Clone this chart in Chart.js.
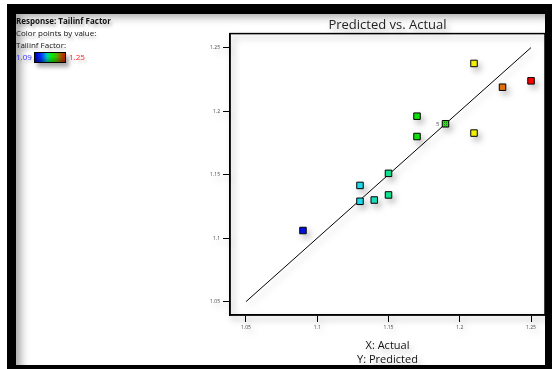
<!DOCTYPE html>
<html>
<head>
<meta charset="utf-8">
<script src="https://cdn.jsdelivr.net/npm/chart.js@4/dist/chart.umd.min.js"></script>
<style>
  html, body { margin:0; padding:0; background:#fff; }
  #wrap { position:relative; width:552px; height:369px; overflow:hidden; background:#fff; }
  #frame { position:absolute; left:7px; top:4px; width:529px; height:351px;
    border-style:solid; border-color:#000; border-width:10px 7px 4px 9px;
    box-shadow: inset 7px 5px 8px -2px rgba(0,0,0,0.35); background:#fff; }
  #c { position:absolute; left:0; top:0; filter: drop-shadow(3px 4px 3px rgba(0,0,0,0.28)); }
  .lg { position:absolute; font-family:'Open Sans', sans-serif; font-size:8px; color:#111; white-space:nowrap; line-height:1; text-shadow: 2px 3px 3px rgba(0,0,0,0.25); }
  #gbox { position:absolute; left:34px; top:52px; width:30px; height:9px; border:1px solid #000;
    background: linear-gradient(to bottom, rgba(0,0,0,0) 40%, rgba(0,0,0,0.3)),
      linear-gradient(to right, #0000b0, #0030ff 20%, #00c8c0 40%, #00f000 55%, #50b000 72%, #b04000 90%, #c02000);
    box-shadow: 3px 4px 4px rgba(0,0,0,0.35); }
</style>
</head>
<body>
<div id="wrap">
  <div id="frame"></div>
  <canvas id="c" width="552" height="369"></canvas>
  <div class="lg" style="left:16px;top:17px;font-weight:bold;">Response: Tailinf Factor</div>
  <div class="lg" style="left:16px;top:29px;">Color points by value:</div>
  <div class="lg" style="left:16px;top:41px;">Tailinf Factor:</div>
  <div class="lg" style="left:16px;top:53px;color:#3030ff;">1.09</div>
  <div id="gbox"></div>
  <div class="lg" style="left:69px;top:53px;color:#ff2020;">1.25</div>
</div>
<script>
// ---- data ----
const actual    = [1.09, 1.13, 1.13, 1.14, 1.15, 1.15, 1.17, 1.17, 1.19, 1.21, 1.21, 1.23, 1.25];
const predicted = [1.106, 1.1415, 1.129, 1.130, 1.134, 1.151, 1.196, 1.180, 1.190, 1.2375, 1.1827, 1.2188, 1.2238];
const replicates = [1, 1, 1, 1, 1, 1, 1, 1, 5, 1, 1, 1, 1];
const xTicks = [1.05, 1.1, 1.15, 1.2, 1.25];
const yTicks = [1.05, 1.1, 1.15, 1.2, 1.25];
const tickLabels = ['1.05', '1.1', '1.15', '1.2', '1.25'];
const refLine = [1.05, 1.25];

// ---- colour map (style) ----
const cmap = [[1.09,[0,16,224]],[1.13,[32,216,232]],[1.15,[16,224,144]],[1.17,[16,224,16]],[1.19,[48,176,32]],[1.21,[240,240,0]],[1.23,[224,112,16]],[1.25,[255,0,0]]];
function colorFor(v){
  if (v <= cmap[0][0]) return 'rgb('+cmap[0][1].join(',')+')';
  for (let i=1;i<cmap.length;i++){
    if (v <= cmap[i][0]+1e-9){
      const t=(v-cmap[i-1][0])/(cmap[i][0]-cmap[i-1][0]);
      const a=cmap[i-1][1], b=cmap[i][1];
      return 'rgb('+a.map((c,k)=>Math.round(c+(b[k]-c)*t)).join(',')+')';
    }
  }
  return 'rgb('+cmap[cmap.length-1][1].join(',')+')';
}
function hatch(base){
  const p=document.createElement('canvas'); p.width=2; p.height=2;
  const g=p.getContext('2d'); g.fillStyle=base; g.fillRect(0,0,2,2);
  g.fillStyle='#1e7a10'; g.fillRect(0,0,1,1);
  return g.createPattern(p,'repeat');
}
const ctx0 = document.getElementById('c').getContext('2d');
const pointColors = actual.map((v,i)=> replicates[i]>1 ? hatch('#30e020') : colorFor(v));

const FONT = "'Open Sans', sans-serif";
const boxPlugin = {
  id:'box',
  afterDraw(chart){
    const {ctx, chartArea:a} = chart;
    ctx.save(); ctx.strokeStyle='#000'; ctx.lineWidth=1.5;
    ctx.strokeRect(a.left, a.top, a.right-a.left, a.bottom-a.top);
    ctx.restore();
  },
  afterDatasetsDraw(chart){
    const {ctx, scales} = chart;
    ctx.save(); ctx.fillStyle='#555'; ctx.font="6px "+FONT; ctx.textAlign='right'; ctx.textBaseline='middle';
    replicates.forEach((r,i)=>{
      if (r>1){
        ctx.fillText(String(r), scales.x.getPixelForValue(actual[i])-6, scales.y.getPixelForValue(predicted[i]));
      }
    });
    ctx.restore();
  }
};

function axis(ticks, extra){
  return Object.assign({
    type:'linear',
    grid:{ display:true, drawOnChartArea:false, drawTicks:true, tickLength:7, color:'#000', lineWidth:1 },
    border:{ display:true, color:'#000', width:1.5 },
    ticks:{ font:{ size:5, family:FONT }, color:'#444', padding:3,
      callback:(v)=>{ const i=ticks.findIndex(t=>Math.abs(t-v)<1e-9); return i>=0?tickLabels[i]:''; } },
    afterBuildTicks:(s)=>{ s.ticks = ticks.map(v=>({value:v})); }
  }, extra);
}

new Chart(ctx0, {
  type:'scatter',
  data:{
    datasets:[
      { type:'line', data: refLine.map(v=>({x:v,y:v})), borderColor:'#000', borderWidth:1, pointRadius:0, fill:false, order:2 },
      { data: actual.map((v,i)=>({x:v,y:predicted[i]})), pointStyle:'rect', pointRadius:4.6, pointHoverRadius:4.6,
        pointBackgroundColor: pointColors, pointBorderColor:'#000', pointBorderWidth:1, order:1 }
    ]
  },
  options:{
    responsive:false, animation:false, devicePixelRatio:1,
    layout:{ padding:{ left:0, right:7, top:0, bottom:0 } },
    plugins:{
      legend:{ display:false }, tooltip:{ enabled:false },
      title:{ display:true, fullSize:false, text:'Predicted vs. Actual', color:'#222',
        font:{ family:FONT, size:13, weight:'normal' }, padding:{ top:17, bottom:1 } }
    },
    scales:{
      x: axis(xTicks, { min:1.0388, max:1.2598, position:'bottom',
        title:{ display:true, text:['X: Actual','Y: Predicted'], color:'#111', font:{ family:FONT, size:11 }, padding:{ top:0, bottom:3 } },
        afterFit:(s)=>{ s.height = 54; } }),
      y: axis(yTicks, { min:1.0395, max:1.261, position:'left',
        afterFit:(s)=>{ s.width = 230; } })
    }
  },
  plugins:[boxPlugin]
});
</script>
</body>
</html>
